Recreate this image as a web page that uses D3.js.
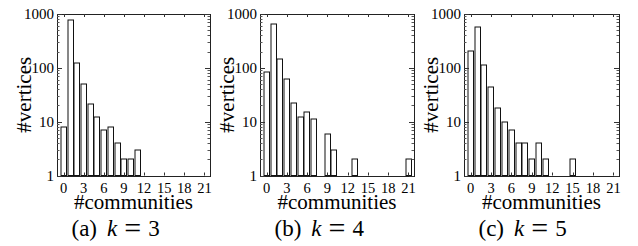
<!DOCTYPE html>
<html>
<head>
<meta charset="utf-8">
<script src="https://cdn.jsdelivr.net/npm/d3@7"></script>
<style>
  body { margin: 0; background: #fff; }
</style>
</head>
<body>
<div id="chart"></div>
<script>
// number of communities per vertex (0..21)
var categories = [0,1,2,3,4,5,6,7,8,9,10,11,12,13,14,15,16,17,18,19,20,21];
var k3Counts = [8,770,123,51,21,12,7,8,4,2,2,3,0,0,0,0,0,0,0,0,0,0];
var k4Counts = [82,640,143,61,22,12,15,11,0,6,3,0,0,2,0,0,0,0,0,0,0,2];
var k5Counts = [206,578,115,45,18,10,7,4,4,2,4,2,0,0,0,2,0,0,0,0,0,0];
var xTicks = [0,3,6,9,12,15,18,21];
var yTicks = [1,10,100,1000];
var captions = ["a", "b", "c"];
var kValues = [3, 4, 5];

var width = 638, height = 246;
var plotTop = 14, plotBottom = 175.5;
var serif = "Liberation Serif";

var svg = d3.select("#chart")
    .append("svg")
    .attr("width", width)
    .attr("height", height);

var panels = [
    {left: 57, right: 210, counts: k3Counts},
    {left: 260, right: 414, counts: k4Counts},
    {left: 464, right: 619, counts: k5Counts}
];

var y = d3.scaleLog()
    .domain([1, 1000])
    .range([plotBottom, plotTop]);

// minor ticks for log axis
var yMinor = [];
[1, 10, 100].forEach(function(d) {
    for (var m = 2; m <= 9; m++) yMinor.push(d * m);
});

panels.forEach(function(p, pi) {
    var x = d3.scaleLinear()
        .domain([-0.97, 21.82])
        .range([p.left, p.right]);

    var g = svg.append("g");

    // bars
    var data = categories.map(function(c, i) { return {c: c, v: p.counts[i]}; })
        .filter(function(d) { return d.v > 1; });

    g.selectAll(".bar")
        .data(data)
        .enter()
        .append("rect")
        .attr("class", "bar")
        .attr("x", function(d) { return Math.round(x(d.c) - 2.7); })
        .attr("y", function(d) { return Math.round(y(d.v)); })
        .attr("width", 5.5)
        .attr("height", function(d) { return plotBottom - Math.round(y(d.v)); })
        .attr("fill", "#fff")
        .attr("stroke", "#111")
        .attr("stroke-width", 1);

    // frame
    g.append("rect")
        .attr("x", p.left + 0.5)
        .attr("y", plotTop + 0.5)
        .attr("width", p.right - p.left)
        .attr("height", plotBottom - plotTop + 0.5)
        .attr("fill", "none")
        .attr("stroke", "#222")
        .attr("stroke-width", 1);

    // y ticks, inside on both sides
    yTicks.forEach(function(t) {
        var yy = Math.round(y(t)) + 0.5;
        g.append("line").attr("x1", p.left).attr("x2", p.left + 5)
            .attr("y1", yy).attr("y2", yy).attr("stroke", "#333");
        g.append("line").attr("x1", p.right).attr("x2", p.right - 5)
            .attr("y1", yy).attr("y2", yy).attr("stroke", "#333");
        g.append("text")
            .attr("x", p.left - 3)
            .attr("y", y(t))
            .attr("dy", "0.35em")
            .attr("text-anchor", "end")
            .attr("font-family", serif)
            .attr("font-size", "15px")
            .text(t);
    });
    yMinor.forEach(function(t) {
        var yy = Math.round(y(t)) + 0.5;
        g.append("line").attr("x1", p.left).attr("x2", p.left + 2.5)
            .attr("y1", yy).attr("y2", yy).attr("stroke", "#555");
        g.append("line").attr("x1", p.right).attr("x2", p.right - 2.5)
            .attr("y1", yy).attr("y2", yy).attr("stroke", "#555");
    });

    // x ticks, inside top and bottom
    xTicks.forEach(function(t) {
        var xx = Math.round(x(t)) + 0.5;
        g.append("line").attr("x1", xx).attr("x2", xx)
            .attr("y1", plotBottom).attr("y2", plotBottom - 3).attr("stroke", "#333");
        g.append("line").attr("x1", xx).attr("x2", xx)
            .attr("y1", plotTop).attr("y2", plotTop + 3).attr("stroke", "#333");
        g.append("text")
            .attr("x", x(t))
            .attr("y", 193)
            .attr("text-anchor", "middle")
            .attr("font-family", serif)
            .attr("font-size", "14.5px")
            .text(t);
    });

    // axis titles
    g.append("text")
        .attr("x", (p.left + p.right) / 2)
        .attr("y", 209)
        .attr("text-anchor", "middle")
        .attr("font-family", serif)
        .attr("font-size", "21px")
        .text("#communities");

    g.append("text")
        .attr("transform", "translate(" + (p.left - 26) + "," + ((plotTop + plotBottom) / 2) + ") rotate(-90)")
        .attr("text-anchor", "middle")
        .attr("font-family", serif)
        .attr("font-size", "21px")
        .text("#vertices");

    // caption: (a) k = 3
    var cap = g.append("text")
        .attr("x", p.left + 14.5)
        .attr("y", 236)
        .attr("font-family", serif)
        .attr("font-size", "23px");
    cap.append("tspan").text("(" + captions[pi] + ")");
    cap.append("tspan").attr("dx", 10).attr("font-style", "italic").text("k");
    cap.append("tspan").attr("dx", 7).attr("font-size", "30px").attr("dy", 2).text("=");
    cap.append("tspan").attr("dx", 7).attr("dy", -2).text(kValues[pi]);
});
</script>
</body>
</html>
